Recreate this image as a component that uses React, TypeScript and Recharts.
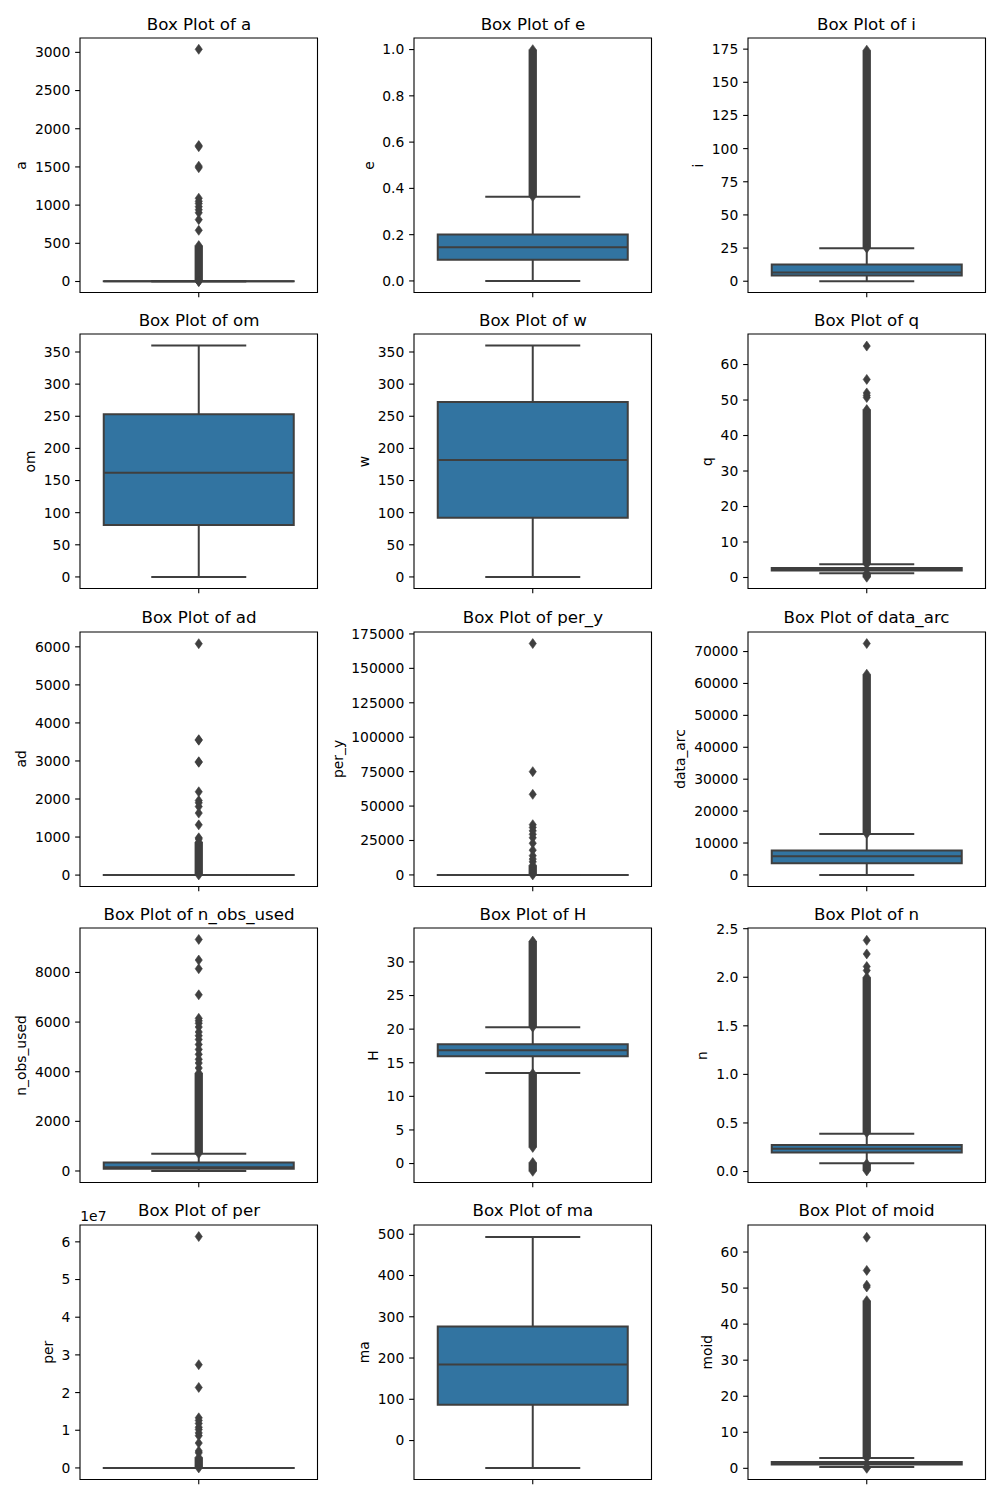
import React from 'react';
import { ComposedChart, XAxis, YAxis, Scatter, ReferenceArea, ReferenceLine } from 'recharts';

// ---------------- data ----------------
const variableNames = ['a', 'e', 'i', 'om', 'w', 'q', 'ad', 'per_y', 'data_arc', 'n_obs_used', 'H', 'n', 'per', 'ma', 'moid'];

// box stats: [lower whisker, Q1, median, Q3, upper whisker]
const aBox = [1.72, 2.54, 2.75, 3.09, 3.9];
const eBox = [0.0, 0.092, 0.146, 0.201, 0.364];
const iBox = [0.0, 4.4, 6.6, 12.6, 24.9];
const omBox = [0.0, 81, 162, 253, 360];
const wBox = [0.0, 92, 182, 272, 360];
const qBox = [1.2, 1.95, 2.22, 2.65, 3.74];
const adBox = [1.97, 2.86, 3.17, 3.45, 4.33];
const perYBox = [1.3, 4.0, 4.55, 5.36, 7.4];
const dataArcBox = [0, 3670, 5860, 7620, 12850];
const nObsBox = [2, 95, 150, 340, 695];
const hBox = [13.46, 15.98, 16.87, 17.76, 20.29];
const nBox = [0.085, 0.196, 0.234, 0.272, 0.39];
const perBox = [475, 1460, 1662, 1958, 2700];
const maBox = [-66.4, 87, 184.6, 276.6, 493.6];
const moidBox = [0.36, 1.05, 1.35, 1.75, 2.85];

// individually visible outliers
const aOut = [3040, 1780, 1765, 1510, 1490, 1090, 1050, 1020, 980, 940, 900, 810, 670];
const eOut: number[] = [];
const iOut: number[] = [];
const omOut: number[] = [];
const wOut: number[] = [];
const qOut = [65.2, 55.8, 52.0, 51.3, 50.7];
const adOut = [6082, 3560, 3545, 2980, 2965, 2190, 1960, 1900, 1800, 1630, 1320, 980, 950];
const perYOut = [168000, 75000, 58500, 36500, 34500, 32000, 29500, 27000, 23000, 18000, 14000, 11500, 9500];
const dataArcOut = [72500];
const nObsOut = [4150, 4350, 4500, 4700, 4900, 5100, 5300, 5450, 5600, 5800, 5950, 6050, 6150, 7100, 8150, 8500, 9330];
const hOut: number[] = [];
const nOut = [2.07, 2.11, 2.24, 2.38];
const perOut = [61400000, 27400000, 21350000, 13300000, 12600000, 11800000, 10800000, 10200000, 9300000, 8550000, 6600000, 4500000, 4000000];
const maOut: number[] = [];
const moidOut = [64.1, 54.9, 50.8, 50.3];

// dense runs of outliers (lowest, highest) that merge into a solid column
const aDense = [[0.62, 1.7], [3.92, 470]];
const eDense = [[0.3645, 0.9995]];
const iDense = [[24.95, 174.2]];
const omDense: number[][] = [];
const wDense: number[][] = [];
const qDense = [[0.08, 1.18], [3.76, 47.3]];
const adDense = [[4.35, 870]];
const perYDense = [[7.45, 7000]];
const dataArcDense = [[12900, 62900]];
const nObsDense = [[700, 3950]];
const hDense = [[20.3, 33.1], [2.4, 13.4], [-1.15, 0.15]];
const nDense = [[0.4, 2.0], [0.006, 0.08]];
const perDense = [[2710, 2800000]];
const maDense: number[][] = [];
const moidDense = [[2.87, 46.5], [0.0002, 0.3]];

// y axis ranges and tick values
const aDomain = [-144, 3188];
const eDomain = [-0.05, 1.05];
const iDomain = [-8.5, 183.4];
const omDomain = [-18, 378];
const wDomain = [-18, 378];
const qDomain = [-3.1, 68.6];
const adDomain = [-300, 6390];
const perYDomain = [-8400, 176400];
const dataArcDomain = [-3625, 76125];
const nObsDomain = [-464, 9791];
const hDomain = [-2.82, 35.05];
const nDomain = [-0.113, 2.507];
const perDomain = [-3070000, 64470000];
const maDomain = [-94.4, 522.4];
const moidDomain = [-3.1, 67.5];

const aTicks = [0, 500, 1000, 1500, 2000, 2500, 3000];
const eTicks = [0, 0.2, 0.4, 0.6, 0.8, 1.0];
const iTicks = [0, 25, 50, 75, 100, 125, 150, 175];
const omTicks = [0, 50, 100, 150, 200, 250, 300, 350];
const wTicks = [0, 50, 100, 150, 200, 250, 300, 350];
const qTicks = [0, 10, 20, 30, 40, 50, 60];
const adTicks = [0, 1000, 2000, 3000, 4000, 5000, 6000];
const perYTicks = [0, 25000, 50000, 75000, 100000, 125000, 150000, 175000];
const dataArcTicks = [0, 10000, 20000, 30000, 40000, 50000, 60000, 70000];
const nObsTicks = [0, 2000, 4000, 6000, 8000];
const hTicks = [0, 5, 10, 15, 20, 25, 30];
const nTicks = [0, 0.5, 1.0, 1.5, 2.0, 2.5];
const perTicks = [0, 10000000, 20000000, 30000000, 40000000, 50000000, 60000000];
const maTicks = [0, 100, 200, 300, 400, 500];
const moidTicks = [0, 10, 20, 30, 40, 50, 60];

const plain = (v: number) => String(v);
const oneDec = (v: number) => v.toFixed(1);
const per1e7 = (v: number) => String(Math.round(v / 1e6) / 10);

const panels = [
  { box: aBox, out: aOut, dense: aDense, domain: aDomain, ticks: aTicks, fmt: plain },
  { box: eBox, out: eOut, dense: eDense, domain: eDomain, ticks: eTicks, fmt: oneDec },
  { box: iBox, out: iOut, dense: iDense, domain: iDomain, ticks: iTicks, fmt: plain },
  { box: omBox, out: omOut, dense: omDense, domain: omDomain, ticks: omTicks, fmt: plain },
  { box: wBox, out: wOut, dense: wDense, domain: wDomain, ticks: wTicks, fmt: plain },
  { box: qBox, out: qOut, dense: qDense, domain: qDomain, ticks: qTicks, fmt: plain },
  { box: adBox, out: adOut, dense: adDense, domain: adDomain, ticks: adTicks, fmt: plain },
  { box: perYBox, out: perYOut, dense: perYDense, domain: perYDomain, ticks: perYTicks, fmt: plain },
  { box: dataArcBox, out: dataArcOut, dense: dataArcDense, domain: dataArcDomain, ticks: dataArcTicks, fmt: plain },
  { box: nObsBox, out: nObsOut, dense: nObsDense, domain: nObsDomain, ticks: nObsTicks, fmt: plain },
  { box: hBox, out: hOut, dense: hDense, domain: hDomain, ticks: hTicks, fmt: plain },
  { box: nBox, out: nOut, dense: nDense, domain: nDomain, ticks: nTicks, fmt: oneDec },
  { box: perBox, out: perOut, dense: perDense, domain: perDomain, ticks: perTicks, fmt: per1e7, offsetText: '1e7' },
  { box: maBox, out: maOut, dense: maDense, domain: maDomain, ticks: maTicks, fmt: plain },
  { box: moidBox, out: moidOut, dense: moidDense, domain: moidDomain, ticks: moidTicks, fmt: plain },
];

// ---------------- layout / style ----------------
const FONT = 'DejaVu Sans';
const BOX_FILL = '#3274a1';
const LINE = '#3f3f3f';
const PW = 237.5;
const PH = 254.5;
const COL_LEFT = [80.3, 414.2, 747.8];
const ROW_TOP = [38.3, 334.3, 631.7, 928.3, 1225];
const ML = 110;
const MT = 10;
const MR = 10;
const MB = 20;
const TICK_FS = 13.89;
const TITLE_FS = 16.67;
const TICK_LEN = 4.86;
const BAND = 0.0175;

const charW = (s: string) => {
  let w = 0;
  for (const c of s) {
    if (c === '.') w += 0.318;
    else if (c === '-') w += 0.838;
    else w += 0.636;
  }
  return w * TICK_FS;
};

const Diamond = (props: any) => {
  const { cx, cy } = props;
  if (cx == null || cy == null) return null;
  const hw = 3.6;
  const hh = 5;
  return (
    <polygon
      points={`${cx},${cy - hh} ${cx + hw},${cy} ${cx},${cy + hh} ${cx - hw},${cy}`}
      fill={LINE}
      stroke={LINE}
      strokeWidth={0.6}
    />
  );
};

function Panel({ idx }: { idx: number }) {
  const p = panels[idx];
  const col = idx % 3;
  const row = Math.floor(idx / 3);
  const [wl, q1, med, q3, wh] = p.box;
  const pts = [...p.out, ...p.dense.flat()].map((v) => ({ x: 0, y: v }));
  return (
    <div style={{ position: 'absolute', left: COL_LEFT[col] - ML, top: ROW_TOP[row] - MT }}>
      <ComposedChart
        width={ML + PW + MR}
        height={MT + PH + MB}
        margin={{ top: MT, right: MR, bottom: 0, left: 0 }}
      >
        <XAxis
          type="number"
          dataKey="x"
          domain={[-0.5, 0.5]}
          ticks={[0]}
          tickFormatter={() => ''}
          tickSize={TICK_LEN}
          axisLine={false}
          tickLine={{ stroke: '#000', strokeWidth: 1.1 }}
          height={MB}
          allowDataOverflow
        />
        <YAxis
          type="number"
          dataKey="y"
          domain={p.domain}
          ticks={p.ticks}
          interval={0}
          tickFormatter={p.fmt}
          width={ML}
          tickSize={TICK_LEN}
          tickMargin={TICK_LEN}
          axisLine={false}
          tickLine={{ stroke: '#000', strokeWidth: 1.1 }}
          tick={{ fill: '#000', fontSize: TICK_FS, fontFamily: FONT }}
          allowDataOverflow
        />
        {/* whiskers */}
        <ReferenceLine segment={[{ x: 0, y: wl }, { x: 0, y: q1 }]} stroke={LINE} strokeWidth={2} ifOverflow="visible" />
        <ReferenceLine segment={[{ x: 0, y: q3 }, { x: 0, y: wh }]} stroke={LINE} strokeWidth={2} ifOverflow="visible" />
        {/* box */}
        <ReferenceArea x1={-0.4} x2={0.4} y1={q1} y2={q3} fill={BOX_FILL} fillOpacity={1} stroke={LINE} strokeWidth={2} ifOverflow="visible" />
        {/* median */}
        <ReferenceLine segment={[{ x: -0.4, y: med }, { x: 0.4, y: med }]} stroke={LINE} strokeWidth={2} ifOverflow="visible" />
        {/* caps */}
        <ReferenceLine segment={[{ x: -0.2, y: wl }, { x: 0.2, y: wl }]} stroke={LINE} strokeWidth={2} ifOverflow="visible" />
        <ReferenceLine segment={[{ x: -0.2, y: wh }, { x: 0.2, y: wh }]} stroke={LINE} strokeWidth={2} ifOverflow="visible" />
        {/* dense outlier runs */}
        {p.dense.map((d, k) => (
          <ReferenceArea key={`d${k}`} x1={-BAND} x2={BAND} y1={d[0]} y2={d[1]} fill={LINE} fillOpacity={1} stroke="none" ifOverflow="visible" />
        ))}
        <Scatter data={pts} dataKey="y" shape={Diamond} isAnimationActive={false} />
        {/* frame */}
        <ReferenceArea x1={-0.5} x2={0.5} y1={p.domain[0]} y2={p.domain[1]} fill="none" fillOpacity={0} stroke="#000" strokeWidth={1.1} ifOverflow="visible" />
      </ComposedChart>
    </div>
  );
}

function TextOverlay() {
  return (
    <svg width={1000} height={1500} style={{ position: 'absolute', left: 0, top: 0, pointerEvents: 'none' }}>
      {panels.map((p, idx) => {
        const col = idx % 3;
        const row = Math.floor(idx / 3);
        const left = COL_LEFT[col];
        const top = ROW_TOP[row];
        const tw = Math.max(...p.ticks.map((t) => charW(p.fmt(t))));
        const lx = left - tw - 18.6;
        const ly = top + PH / 2;
        return (
          <g key={idx} fontFamily={FONT}>
            <text x={left + PW / 2} y={top - 8.8} textAnchor="middle" fontSize={TITLE_FS} fill="#000">
              {`Box Plot of ${variableNames[idx]}`}
            </text>
            <text x={lx} y={ly} textAnchor="middle" fontSize={TICK_FS} fill="#000" transform={`rotate(-90, ${lx}, ${ly})`}>
              {variableNames[idx]}
            </text>
            {p.offsetText ? (
              <text x={left} y={top - 4} textAnchor="start" fontSize={TICK_FS} fill="#000">
                {p.offsetText}
              </text>
            ) : null}
          </g>
        );
      })}
    </svg>
  );
}

export default function App() {
  return (
    <div style={{ position: 'absolute', left: 0, top: 0, width: 1000, height: 1500, background: '#fff', fontFamily: FONT }}>
      {panels.map((_, idx) => (
        <Panel key={idx} idx={idx} />
      ))}
      <TextOverlay />
    </div>
  );
}
